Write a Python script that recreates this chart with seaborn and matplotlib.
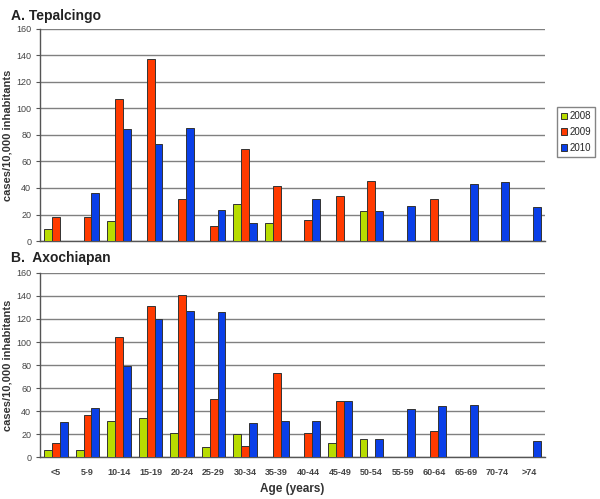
import matplotlib
matplotlib.use("Agg")
import matplotlib.pyplot as plt
import numpy as np
import pandas as pd
import seaborn as sns

nan = np.nan

age_groups = ["<5", "5-9", "10-14", "15-19", "20-24", "25-29", "30-34", "35-39",
              "40-44", "45-49", "50-54", "55-59", "60-64", "65-69", "70-74", ">74"]
years = ["2008", "2009", "2010"]

# A. Tepalcingo
tep_2008 = [9, nan, 15, nan, nan, nan, 27.7, 13.6, nan, nan, 22.4, nan, nan, nan, nan, nan]
tep_2009 = [18, 18, 107, 137.6, 31.7, 11.6, 69.4, 41.5, 15.6, 34, 45.3, nan, 32, nan, nan, nan]
tep_2010 = [nan, 36.5, 84.5, 73.5, 85, 23.6, 13.6, nan, 31.4, nan, 22.4, 26.2, nan, 42.8, 44.8, 26]

# B. Axochiapan
axo_2008 = [6.4, 6.4, 31.7, 34.3, 21.2, 8.7, 19.8, nan, nan, 12.5, 15.4, nan, nan, nan, nan, nan]
axo_2009 = [12.5, 36.7, 104.7, 131.2, 140.8, 50.6, 9.9, 72.7, 21.2, 48.6, nan, nan, 22.7, nan, nan, nan]
axo_2010 = [30.5, 42.5, 78.8, 119.9, 126.8, 126.5, 29.7, 31.1, 31.7, 48.6, 15.4, 42.2, 44.8, 45.4, nan, 13.7]

palette = {"2008": "#B8DC00", "2009": "#FF3A00", "2010": "#0A3FE8"}


def long_form(v08, v09, v10):
    rows = []
    for yr, vals in zip(years, [v08, v09, v10]):
        for age, v in zip(age_groups, vals):
            rows.append({"age": age, "year": yr, "value": v})
    return pd.DataFrame(rows)


sns.set_style("white")
plt.rcParams["font.family"] = ["Liberation Sans", "DejaVu Sans"]

fig = plt.figure(figsize=(6, 4.99), dpi=100)
ax1 = fig.add_axes([0.067, 0.517, 0.841, 0.425])
ax2 = fig.add_axes([0.067, 0.084, 0.841, 0.369])

for ax, df, title in [(ax1, long_form(tep_2008, tep_2009, tep_2010), "A. Tepalcingo"),
                      (ax2, long_form(axo_2008, axo_2009, axo_2010), "B.  Axochiapan")]:
    sns.barplot(data=df, x="age", y="value", hue="year", order=age_groups,
                hue_order=years, palette=palette, width=0.75, edgecolor="#333333",
                linewidth=0.7, saturation=1, legend=(ax is ax1), ax=ax, zorder=3)
    ax.set_ylim(0, 160)
    ax.set_xlim(-0.5, len(age_groups) - 0.5)
    ax.set_yticks(np.arange(0, 161, 20))
    ax.yaxis.grid(True, color="#808080", linewidth=1)
    ax.set_axisbelow(True)
    for s in ["top", "right"]:
        ax.spines[s].set_visible(False)
    for s in ["left", "bottom"]:
        ax.spines[s].set_color("#555555")
        ax.spines[s].set_linewidth(1)
    ax.set_xticks(np.arange(-0.5, len(age_groups), 1), minor=True)
    ax.tick_params(axis="x", which="minor", length=3, color="#555555", direction="out")
    ax.tick_params(axis="x", which="major", length=0, labelsize=6.5, labelcolor="#444444", pad=8)
    ax.tick_params(axis="y", length=3, color="#555555", labelsize=6.5, labelcolor="#444444", direction="out", left=True)
    ax.set_ylabel("cases/10,000 inhabitants", fontsize=8, fontweight="bold", color="#333333")
    ax.set_xlabel("")
    for lab in ax.get_xticklabels():
        lab.set_fontweight("bold")
    ax.text(-0.058, 1.06 if ax is ax1 else 1.08, title, transform=ax.transAxes,
            fontsize=10, fontweight="bold", color="#222222", ha="left", va="center")

ax1.set_xticklabels([])
ax2.set_xlabel("Age (years)", fontsize=8.5, fontweight="bold", color="#333333", labelpad=4)
ax2.yaxis.set_label_coords(-0.055, 0.5)
ax1.yaxis.set_label_coords(-0.055, 0.5)

handles, labels = ax1.get_legend_handles_labels()
ax1.get_legend().remove()
fig.legend(handles, labels, loc="upper left", bbox_to_anchor=(0.928, 0.785),
           fontsize=7, frameon=True, fancybox=False, edgecolor="#666666",
           handlelength=0.6, handleheight=0.6, handletextpad=0.3,
           labelspacing=0.6, borderpad=0.4, borderaxespad=0)

fig.savefig("out.png", dpi=100)
